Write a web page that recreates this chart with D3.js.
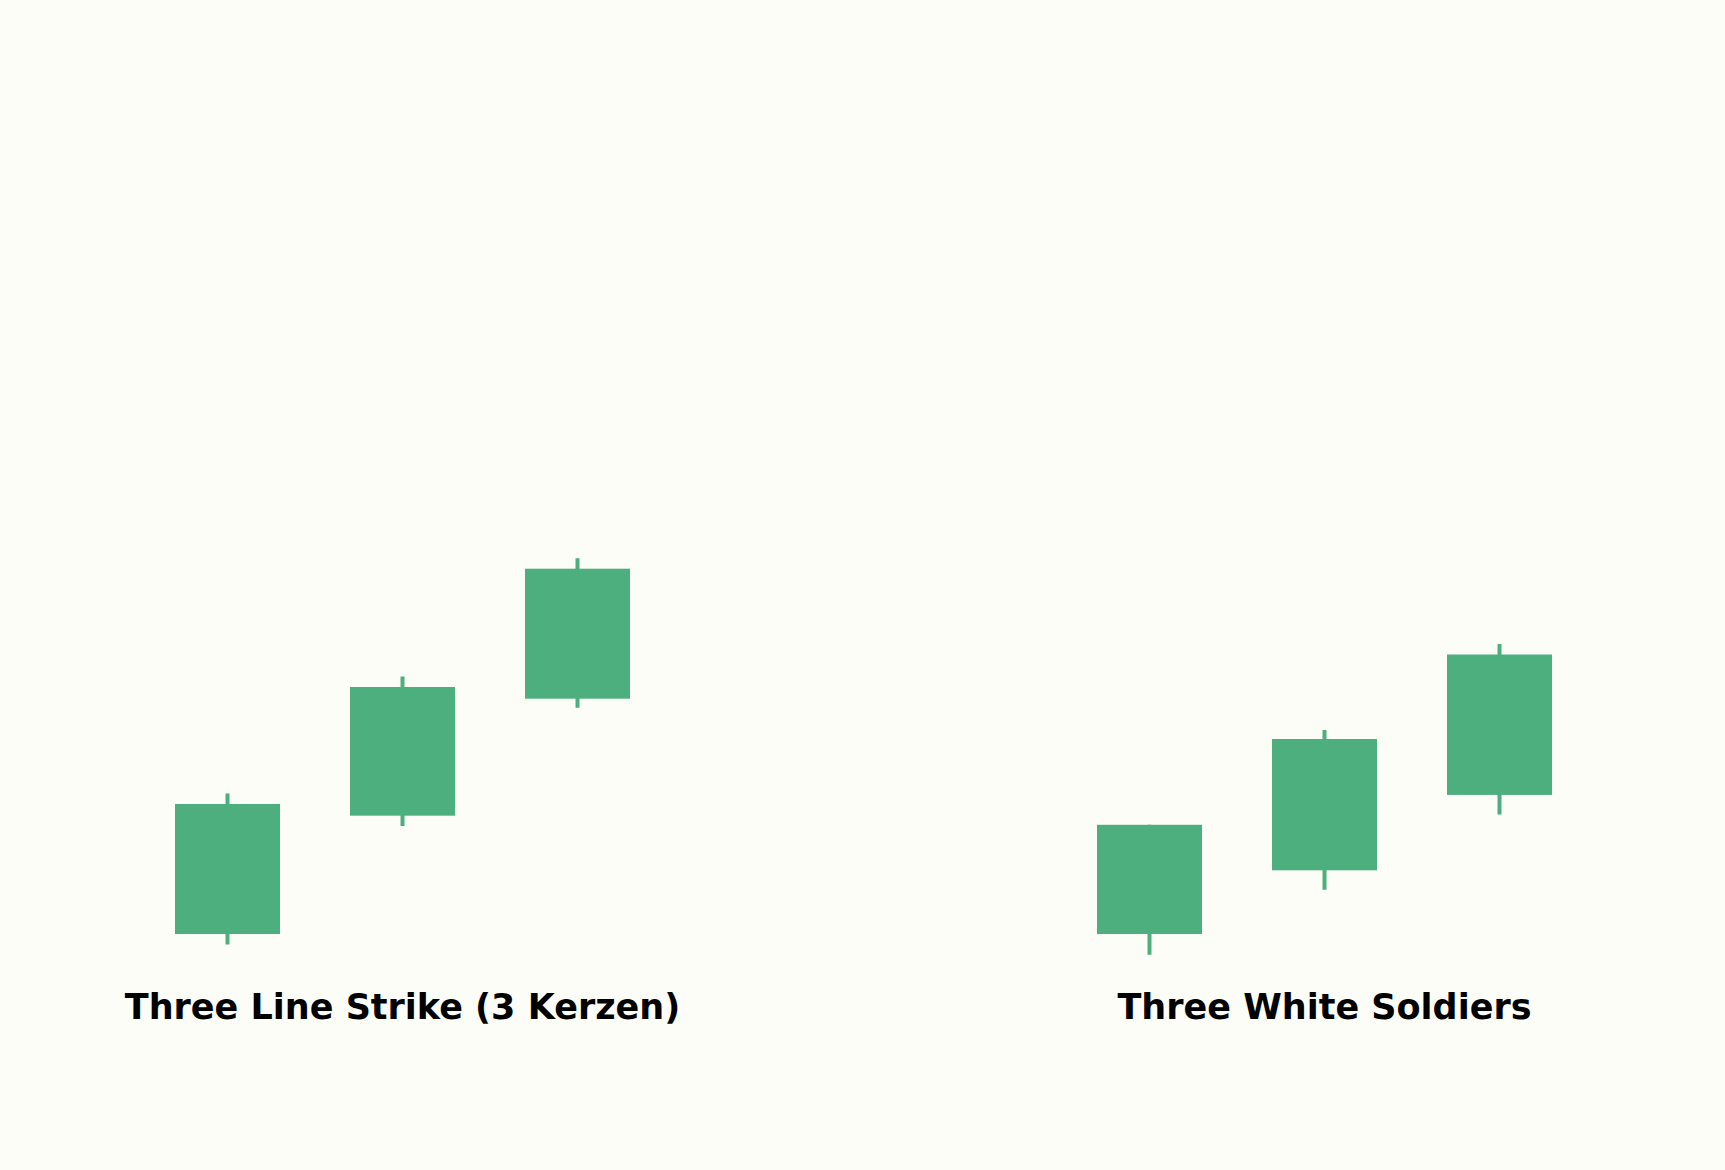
<!DOCTYPE html>
<html>
    <head>
        <meta charset="UTF-8">
        <title>Bullish candle patterns</title>
        <style>
            body {margin:0; background:#fdfdf8;}
            .title {font-family:"DejaVu Sans", sans-serif; font-weight:bold; font-size:35px; fill:#000; text-anchor:middle;}
            .wick {stroke:#4daf7e; stroke-width:4px;}
            .body {fill:#4daf7e;}
        </style>
        <script src="https://cdn.jsdelivr.net/npm/d3@7/dist/d3.min.js"></script>
    </head>
    <body>
        <svg width="1725" height="1170"></svg>
        <script>
            // two patterns, three candles each
            var titles = ["Three Line Strike (3 Kerzen)", "Three White Soldiers"];
            var candles = ["1", "2", "3"];

            var strikeOpen  = [100.0, 109.1, 118.1];
            var strikeClose = [110.0, 119.0, 128.1];
            var strikeHigh  = [110.8, 119.8, 128.9];
            var strikeLow   = [99.2, 108.3, 117.4];

            var soldiersOpen  = [100.0, 104.9, 110.7];
            var soldiersClose = [108.4, 115.0, 121.5];
            var soldiersHigh  = [108.4, 115.7, 122.3];
            var soldiersLow   = [98.4, 103.4, 109.2];

            var svg = d3.select("svg");

            //... shared price scale
            var y = d3.scaleLinear().domain([100, 110]).range([934, 804]);

            var panels = [
                {title: titles[0], x0: 140, o: strikeOpen, c: strikeClose, h: strikeHigh, l: strikeLow},
                {title: titles[1], x0: 1062, o: soldiersOpen, c: soldiersClose, h: soldiersHigh, l: soldiersLow}
            ];

            panels.forEach(function(p)
            {
                var x = d3.scaleBand().domain(candles).range([p.x0, p.x0 + 525]).paddingInner(0.4).paddingOuter(0.2);
                var data = candles.map((k, i) => ({k: k, o: p.o[i], c: p.c[i], h: p.h[i], l: p.l[i]}));
                var g = svg.append("g");

                g.selectAll("line")
                    .data(data)
                    .enter()
                    .append("line")
                    .attr("class", "wick")
                    .attr("x1", d => x(d.k) + x.bandwidth() / 2)
                    .attr("x2", d => x(d.k) + x.bandwidth() / 2)
                    .attr("y1", d => y(d.h))
                    .attr("y2", d => y(d.l));

                g.selectAll("rect")
                    .data(data)
                    .enter()
                    .append("rect")
                    .attr("class", "body")
                    .attr("x", d => x(d.k))
                    .attr("width", x.bandwidth())
                    .attr("y", d => y(Math.max(d.o, d.c)))
                    .attr("height", d => Math.abs(y(d.o) - y(d.c)));

                g.append("text")
                    .attr("class", "title")
                    .attr("x", x("2") + x.bandwidth() / 2)
                    .attr("y", 1019)
                    .text(p.title);
            });
        </script>
    </body>
</html>
